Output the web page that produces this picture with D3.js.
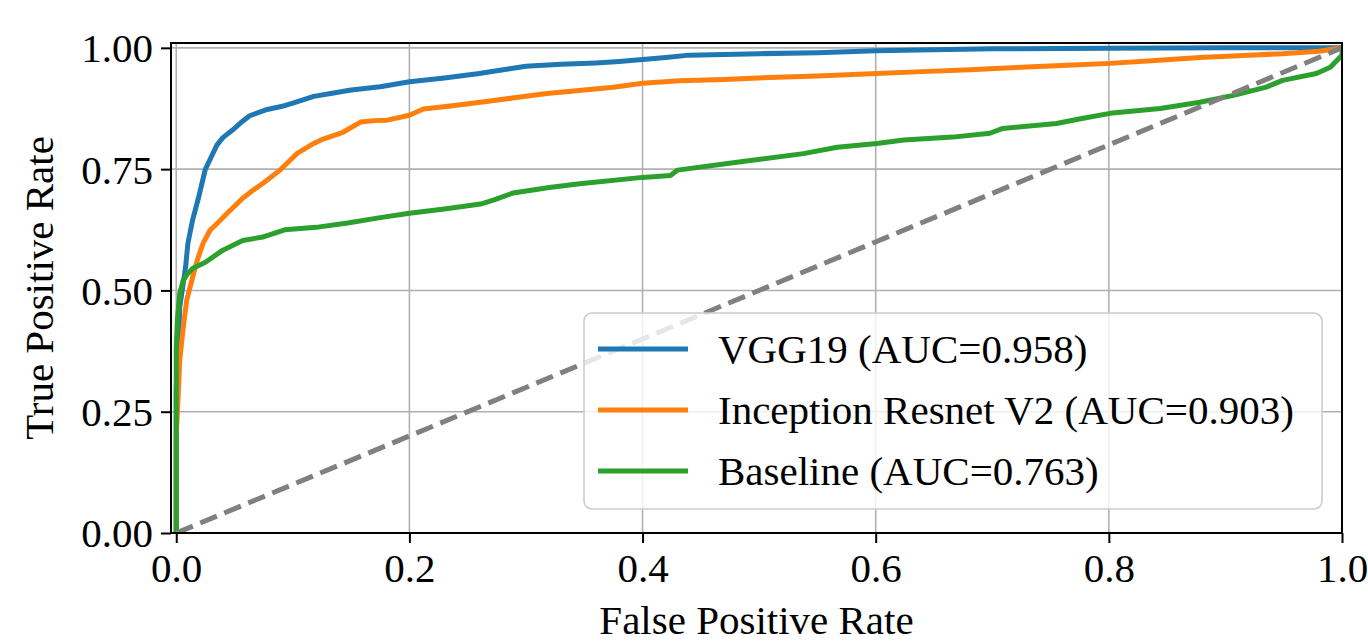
<!DOCTYPE html>
<html>
<head>
<meta charset="utf-8">
<script src="https://cdn.jsdelivr.net/npm/d3@7"></script>
<style>
  html, body { margin: 0; padding: 0; background: #fff; }
  svg { display: block; font-family: "Liberation Serif", "Times New Roman", serif; }
</style>
</head>
<body>
<svg width="1368" height="642"></svg>
<script>
// ROC curves: [fpr, tpr]
var vggRoc = [[0,0],[0,0.30],[0.002,0.40],[0.003,0.466],[0.006,0.515],[0.008,0.548],[0.010,0.597],[0.014,0.645],
  [0.019,0.69],[0.022,0.72],[0.025,0.75],[0.03,0.775],[0.035,0.80],[0.04,0.815],[0.048,0.83],[0.055,0.845],
  [0.063,0.86],[0.078,0.873],[0.09,0.879],[0.1,0.886],[0.118,0.9],[0.135,0.907],[0.15,0.913],[0.175,0.92],
  [0.2,0.93],[0.23,0.938],[0.26,0.947],[0.286,0.957],[0.3,0.962],[0.33,0.966],[0.36,0.969],[0.38,0.972],
  [0.4,0.976],[0.42,0.98],[0.44,0.985],[0.5,0.988],[0.55,0.99],[0.6,0.994],[0.65,0.996],[0.7,0.998],
  [0.8,0.999],[0.9,1.0],[1,1]]

var inceptionRoc = [[0,0],[0,0.20],[0.002,0.30],[0.003,0.356],[0.006,0.424],[0.009,0.48],[0.014,0.527],
  [0.018,0.562],[0.023,0.597],[0.029,0.624],[0.035,0.638],[0.045,0.662],[0.057,0.69],[0.065,0.705],
  [0.075,0.722],[0.089,0.748],[0.095,0.762],[0.104,0.783],[0.118,0.803],[0.126,0.812],[0.143,0.826],
  [0.158,0.847],[0.17,0.85],[0.181,0.851],[0.2,0.861],[0.212,0.874],[0.235,0.88],[0.261,0.888],[0.29,0.897],
  [0.318,0.906],[0.35,0.913],[0.375,0.919],[0.4,0.927],[0.432,0.932],[0.47,0.935],[0.509,0.939],[0.55,0.942],
  [0.601,0.947],[0.64,0.951],[0.681,0.955],[0.707,0.958],[0.764,0.964],[0.801,0.968],[0.84,0.974],
  [0.878,0.98],[0.92,0.985],[0.949,0.988],[0.98,0.993],[1,1]]

var baselineRoc = [[0,0],[0,0.38],[0.001,0.44],[0.003,0.494],[0.006,0.521],[0.01,0.535],[0.014,0.545],
  [0.025,0.558],[0.04,0.583],[0.057,0.603],[0.074,0.61],[0.093,0.625],[0.12,0.63],[0.147,0.639],[0.175,0.65],
  [0.2,0.659],[0.23,0.668],[0.261,0.678],[0.272,0.686],[0.289,0.701],[0.32,0.712],[0.346,0.72],[0.4,0.733],
  [0.424,0.737],[0.43,0.748],[0.481,0.764],[0.538,0.782],[0.567,0.795],[0.601,0.803],[0.624,0.81],
  [0.666,0.816],[0.698,0.824],[0.709,0.834],[0.755,0.844],[0.778,0.855],[0.801,0.865],[0.844,0.875],
  [0.878,0.888],[0.907,0.902],[0.935,0.919],[0.949,0.933],[0.978,0.947],[0.99,0.96],[1.0,0.985],[1,1]]

var chance = [[0,0],[1,1]]

var seriesNames = ['VGG19 (AUC=0.958)', 'Inception Resnet V2 (AUC=0.903)', 'Baseline (AUC=0.763)']
var seriesColors = ['#1f77b4', '#ff7f0e', '#2ca02c']
var xTicks = [0, 0.2, 0.4, 0.6, 0.8, 1.0]
var yTicks = [0, 0.25, 0.5, 0.75, 1.0]

var svg = d3.select('svg')
  , box = { left: 171, right: 1342, top: 43, bottom: 533 }
  , fontSize = 41
  , lw = 5

var x = d3.scaleLinear().domain([-0.0045, 1.0]).range([box.left, box.right])
var y = d3.scaleLinear().domain([0, 1.01]).range([box.bottom, box.top])

svg.append('defs').append('clipPath').attr('id', 'plot')
  .append('rect').attr('x', box.left).attr('y', box.top)
  .attr('width', box.right - box.left).attr('height', box.bottom - box.top)

// grid
var grid = svg.append('g').attr('stroke', '#b0b0b0').attr('stroke-width', 1.6)
grid.selectAll('.gx').data(xTicks).enter().append('line')
  .attr('x1', x).attr('x2', x).attr('y1', box.top).attr('y2', box.bottom)
grid.selectAll('.gy').data(yTicks).enter().append('line')
  .attr('y1', y).attr('y2', y).attr('x1', box.left).attr('x2', box.right)

var line = d3.line().x(function (d) { return x(d[0]) }).y(function (d) { return y(d[1]) })

var plot = svg.append('g').attr('clip-path', 'url(#plot)')
plot.selectAll('path.roc').data([vggRoc, inceptionRoc, baselineRoc]).enter().append('path')
  .attr('class', 'roc')
  .attr('d', line)
  .attr('fill', 'none')
  .attr('stroke', function (d, i) { return seriesColors[i] })
  .attr('stroke-width', lw)
  .attr('stroke-linejoin', 'round')
  .attr('stroke-linecap', 'square')

plot.append('path').datum(chance)
  .attr('d', line)
  .attr('fill', 'none')
  .attr('stroke', '#808080')
  .attr('stroke-width', lw)
  .attr('stroke-dasharray', '18,8')

// axes
var xAxis = d3.axisBottom(x).tickValues(xTicks).tickFormat(d3.format('.1f')).tickSize(10).tickSizeOuter(0).tickPadding(6)
var yAxis = d3.axisLeft(y).tickValues(yTicks).tickFormat(d3.format('.2f')).tickSize(10).tickSizeOuter(0).tickPadding(8)

var gx = svg.append('g').attr('transform', 'translate(0,' + box.bottom + ')').call(xAxis)
var gy = svg.append('g').attr('transform', 'translate(' + box.left + ',0)').call(yAxis)
;[gx, gy].forEach(function (g) {
  g.select('.domain').remove()
  g.selectAll('.tick line').attr('stroke', '#000').attr('stroke-width', 2)
  g.selectAll('.tick text').attr('fill', '#000').style('font-size', fontSize + 'px')
    .style('font-family', '"Liberation Serif", serif')
})
gx.selectAll('.tick text').attr('dy', '0.8em')
gy.selectAll('.tick text').attr('dy', '0.34em')

// frame
svg.append('rect').attr('x', box.left).attr('y', box.top)
  .attr('width', box.right - box.left).attr('height', box.bottom - box.top)
  .attr('fill', 'none').attr('stroke', '#000').attr('stroke-width', 2)

// axis labels
svg.append('text').attr('x', (box.left + box.right) / 2).attr('y', 634)
  .attr('text-anchor', 'middle').style('font-size', fontSize + 'px').text('False Positive Rate')
svg.append('text').attr('transform', 'translate(53,' + (box.top + box.bottom) / 2 + ') rotate(-90)')
  .attr('text-anchor', 'middle').style('font-size', fontSize + 'px').text('True Positive Rate')

// legend
var legend = svg.append('g').attr('transform', 'translate(584,313)')
legend.append('rect').attr('width', 738).attr('height', 196).attr('rx', 8)
  .attr('fill', '#fff').attr('fill-opacity', 0.8)
  .attr('stroke', '#cccccc').attr('stroke-width', 1.6)
var item = legend.selectAll('g.item').data(seriesNames).enter().append('g')
  .attr('class', 'item')
  .attr('transform', function (d, i) { return 'translate(0,' + (36 + i * 61) + ')' })
item.append('line').attr('x1', 14).attr('x2', 104)
  .attr('stroke', function (d, i) { return seriesColors[i] }).attr('stroke-width', lw)
item.append('text').attr('x', 134).attr('dy', '0.34em')
  .style('font-size', fontSize + 'px').text(function (d) { return d })
</script>
</body>
</html>
